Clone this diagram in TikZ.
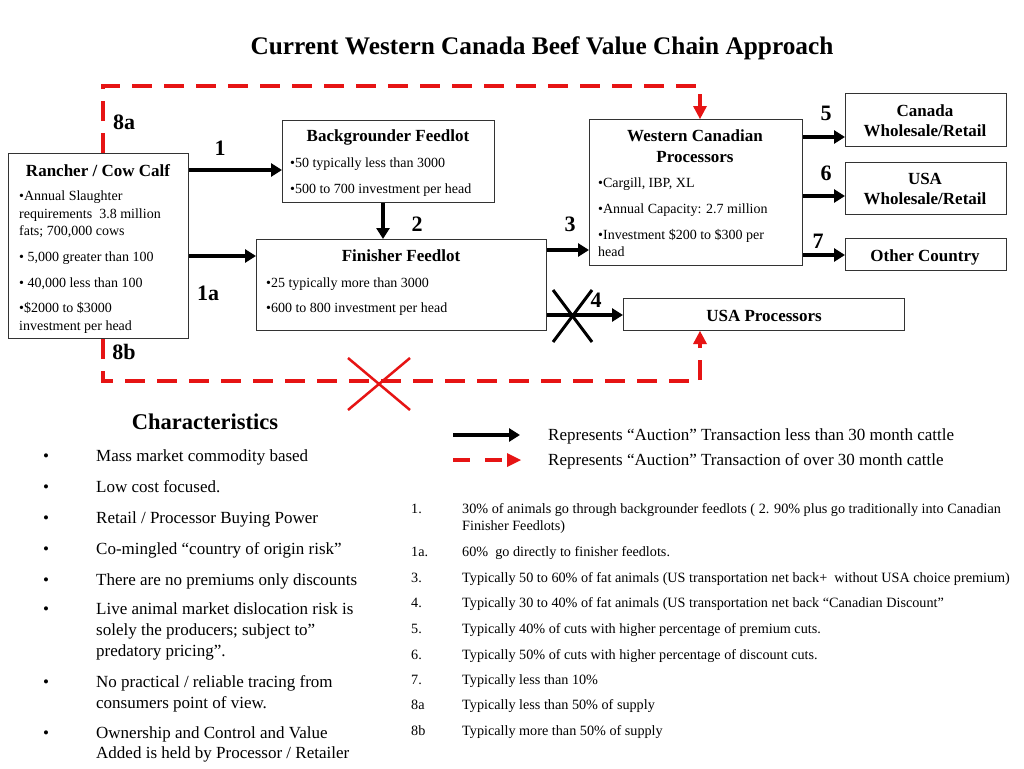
\documentclass[tikz,border=0pt]{standalone}
\usepackage{fontspec}
\setmainfont{Liberation Serif}
\usetikzlibrary{arrows.meta}
\definecolor{dred}{RGB}{230,20,20}
\begin{document}
\begin{tikzpicture}[x=1pt,y=-1pt,
 box/.style={draw=black!80, line width=1pt, inner sep=0pt, anchor=north west},
 bt/.style={anchor=base west, inner sep=0pt, font=\fontsize{14}{16}\selectfont},
 hd/.style={anchor=base, inner sep=0pt, font=\bfseries\fontsize{17}{19}\selectfont},
 num/.style={inner sep=0pt, font=\bfseries\fontsize{22}{24}\selectfont},
 ch/.style={anchor=base west, inner sep=0pt, font=\fontsize{17}{19}\selectfont},
 fn/.style={anchor=base west, inner sep=0pt, font=\fontsize{14.2}{16}\selectfont},
 blk/.style={line width=4pt, -{Triangle[length=11pt,width=13pt]}},
 rdash/.style={draw=dred, line width=4.5pt, dash pattern=on 20pt off 12pt}
]
\useasboundingbox (0,0) rectangle (1024,768);
\fill[white] (0,0) rectangle (1024,768);

% title
\node[anchor=base, inner sep=0pt, font=\bfseries\fontsize{25.3}{28}\selectfont] (title) at (542,55) {Current Western Canada Beef Value Chain Approach};

% boxes
\node[box, minimum width=180pt, minimum height=185pt] (ranch) at (8,153) {};
\node[box, minimum width=212pt, minimum height=82pt] (back) at (282,120) {};
\node[box, minimum width=290pt, minimum height=91pt] (fin) at (256,239) {};
\node[box, minimum width=213pt, minimum height=146pt] (wcp) at (589,119) {};
\node[box, minimum width=161pt, minimum height=53pt] (can) at (845,93) {};
\node[box, minimum width=161pt, minimum height=52pt] (usa) at (845,162) {};
\node[box, minimum width=161pt, minimum height=32pt] (oth) at (845,238) {};
\node[box, minimum width=281pt, minimum height=32pt] (usap) at (623,298) {};

% rancher text
\node[hd] (rt) at (98,176) {Rancher / Cow Calf};
\node[bt] (r1) at (19,200) {•Annual Slaughter};
\node[bt] (r2) at (19,218) {requirements\ \ 3.8 million};
\node[bt] (r3) at (19,235) {fats; 700,000 cows};
\node[bt] (r4) at (19,261) {• 5,000 greater than 100};
\node[bt] (r5) at (19,287) {• 40,000 less than 100};
\node[bt] (r6) at (19,312) {•\$2000 to \$3000};
\node[bt] (r7) at (19,330) {investment per head};

% backgrounder
\node[hd] (bt0) at (388,141) {Backgrounder Feedlot};
\node[bt] (b1) at (290,167) {•50 typically less than 3000};
\node[bt] (b2) at (290,193) {•500 to 700 investment per head};

% finisher
\node[hd] (ft0) at (401,261) {Finisher Feedlot};
\node[bt] (f1) at (266,287) {•25 typically more than 3000};
\node[bt] (f2) at (266,312) {•600 to 800 investment per head};

% western canadian processors
\node[hd] (wt1) at (695,141) {Western Canadian};
\node[hd] (wt2) at (695,162) {Processors};
\node[bt] (w1) at (598,187) {•Cargill, IBP, XL};
\node[bt] (w2) at (598,213) {•Annual Capacity: 2.7 million};
\node[bt] (w3) at (598,239) {•Investment \$200 to \$300 per};
\node[bt] (w4) at (598,256) {head};

% destination boxes
\node[hd] (ct1) at (925,116) {Canada};
\node[hd] (ct2) at (925,136) {Wholesale/Retail};
\node[hd] (ut1) at (925,184) {USA};
\node[hd] (ut2) at (925,204) {Wholesale/Retail};
\node[hd] (ot) at (925,261) {Other Country};
\node[hd] (upt) at (764,321) {USA Processors};

% black arrows
\draw[blk] (ranch.east |- 0,170) -- (back.west |- 0,170);
\draw[blk] (ranch.east |- 0,256) -- (fin.west |- 0,256);
\draw[blk] (back.south -| 383,0) -- (fin.north -| 383,0);
\draw[blk] (fin.east |- 0,250) -- (wcp.west |- 0,250);
\draw[blk] (fin.east |- 0,315) -- (usap.west |- 0,315);
\draw[blk] (wcp.east |- 0,137) -- (can.west |- 0,137);
\draw[blk] (wcp.east |- 0,196) -- (usa.west |- 0,196);
\draw[blk] (wcp.east |- 0,255) -- (oth.west |- 0,255);

% numbers
\node[num] (n1) at (220,148) {1};
\node[num] (n1a) at (208,293) {1a};
\node[num] (n2) at (417,224) {2};
\node[num] (n3) at (570,224) {3};
\node[num] (n4) at (596,300) {4};
\node[num] (n5) at (826,113) {5};
\node[num] (n6) at (826,173) {6};
\node[num] (n7) at (818,241) {7};
\node[num] (n8a) at (124,122) {8a};
\node[num] (n8b) at (124,352) {8b};

% black X on arrow 4
\coordinate (xa) at (553,290);
\coordinate (xb) at (592,342);
\coordinate (xc) at (592,290);
\coordinate (xd) at (553,342);
\draw[line width=3pt] (xa) -- (xb);
\draw[line width=3pt] (xc) -- (xd);

% red dashed routes
\coordinate (ta) at (103,86);
\coordinate (tb) at (700,86);
\coordinate (ba) at (103,381);
\coordinate (bb) at (700,381);
\draw[rdash] (ranch.north -| ta) -- (ta) -- (tb) -- ([yshift=13pt]wcp.north -| tb);
\fill[dred] ([xshift=-7pt,yshift=13pt]wcp.north -| tb) -- ([xshift=7pt,yshift=13pt]wcp.north -| tb) -- (wcp.north -| tb) -- cycle;
\draw[rdash] (ranch.south -| ba) -- (ba) -- (bb) -- ([yshift=-13pt]usap.south -| bb);
\fill[dred] ([xshift=-7pt,yshift=-13pt]usap.south -| bb) -- ([xshift=7pt,yshift=-13pt]usap.south -| bb) -- (usap.south -| bb) -- cycle;

% red X
\coordinate (ra) at (348,358);
\coordinate (rb) at (410,410);
\coordinate (rc) at (410,358);
\coordinate (rd) at (348,410);
\draw[dred, line width=2.5pt] (ra) -- (rb);
\draw[dred, line width=2.5pt] (rc) -- (rd);

% characteristics
\node[anchor=base, inner sep=0pt, font=\bfseries\fontsize{22.5}{25}\selectfont] (cht) at (205,429) {Characteristics};
\foreach \y [count=\i] in {461,492,523,554,585,614,687,738}
  \node[ch] (cb\i) at (43,\y) {•};
\node[ch] (c1) at (96,461) {Mass market commodity based};
\node[ch] (c2) at (96,492) {Low cost focused.};
\node[ch] (c3) at (96,523) {Retail / Processor Buying Power};
\node[ch] (c4) at (96,554) {Co-mingled “country of origin risk”};
\node[ch] (c5) at (96,585) {There are no premiums only discounts};
\node[ch] (c6) at (96,614) {Live animal market dislocation risk is};
\node[ch] (c6b) at (96,635) {solely the producers; subject to”};
\node[ch] (c6c) at (96,656) {predatory pricing”.};
\node[ch] (c7) at (96,687) {No practical / reliable tracing from};
\node[ch] (c7b) at (96,708) {consumers point of view.};
\node[ch] (c8) at (96,738) {Ownership and Control and Value};
\node[ch] (c8b) at (96,758) {Added is held by Processor / Retailer};

% legend
\coordinate (la) at (453,435);
\coordinate (lb) at (520,435);
\draw[blk] (la) -- (lb);
\coordinate (lc) at (453,460);
\coordinate (ld) at (503,460);
\coordinate (le) at (507,460);
\coordinate (lf) at (521,460);
\draw[dred, line width=4.5pt, dash pattern=on 17pt off 15pt] (lc) -- (ld);
\fill[dred] ([yshift=7pt]le) -- ([yshift=-7pt]le) -- (lf) -- cycle;
\node[ch] (l1) at (548,440) {Represents “Auction” Transaction less than 30 month cattle};
\node[ch] (l2) at (548,465) {Represents “Auction” Transaction of over 30 month cattle};

% footnotes
\node[fn] (k1) at (411,513) {1.};
\node[fn] (t1) at (462,513) {30\% of animals go through backgrounder feedlots ( 2. 90\% plus go traditionally into Canadian};
\node[fn] (t1b) at (462,530) {Finisher Feedlots)};
\node[fn] (k2) at (411,556) {1a.};
\node[fn] (t2) at (462,556) {60\%\ \ go directly to finisher feedlots.};
\node[fn] (k3) at (411,582) {3.};
\node[fn] (t3) at (462,582) {Typically 50 to 60\% of fat animals (US transportation net back+\ \ without USA choice premium)};
\node[fn] (k4) at (411,607) {4.};
\node[fn] (t4) at (462,607) {Typically 30 to 40\% of fat animals (US transportation net back “Canadian Discount”};
\node[fn] (k5) at (411,633) {5.};
\node[fn] (t5) at (462,633) {Typically 40\% of cuts with higher percentage of premium cuts.};
\node[fn] (k6) at (411,659) {6.};
\node[fn] (t6) at (462,659) {Typically 50\% of cuts with higher percentage of discount cuts.};
\node[fn] (k7) at (411,684) {7.};
\node[fn] (t7) at (462,684) {Typically less than 10\%};
\node[fn] (k8) at (411,709) {8a};
\node[fn] (t8) at (462,709) {Typically less than 50\% of supply};
\node[fn] (k9) at (411,735) {8b};
\node[fn] (t9) at (462,735) {Typically more than 50\% of supply};
\end{tikzpicture}
\end{document}
